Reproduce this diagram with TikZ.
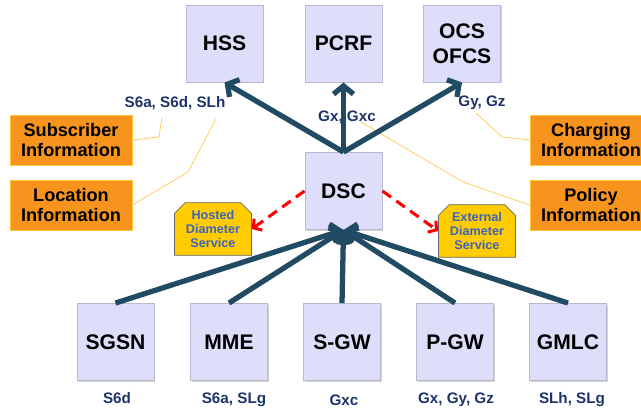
\documentclass[tikz,border=0pt]{standalone}
\usepackage{fontspec}
\setmainfont{Liberation Sans}
\usetikzlibrary{arrows.meta,shapes.misc,shadows}
\definecolor{nodefill}{RGB}{222,222,250}
\definecolor{nodeedge}{RGB}{185,185,205}
\definecolor{linkblue}{RGB}{33,74,99}
\definecolor{ifacetext}{RGB}{28,52,105}
\definecolor{infoorange}{RGB}{247,148,30}
\definecolor{infoedge}{RGB}{255,200,60}
\definecolor{svcyellow}{RGB}{255,204,0}
\definecolor{svctext}{RGB}{60,100,190}
\definecolor{leadyellow}{RGB}{255,200,80}
\begin{document}
\begin{tikzpicture}[
      x=0.03cm, y=-0.03cm,
      elem/.style={draw=nodeedge, line width=0.8pt, fill=nodefill, minimum width=2.31cm, minimum height=2.31cm, align=center, font=\fontsize{18}{21}\selectfont\bfseries, drop shadow={shadow xshift=1.2pt, shadow yshift=-1.2pt, opacity=0.35}},
      info/.style={draw=infoedge, line width=0.6pt, fill=infoorange, minimum width=3.66cm, minimum height=1.5cm, align=center, font=\fontsize{15.5}{17}\selectfont\bfseries},
      svc/.style={chamfered rectangle, chamfered rectangle corners={north west,north east}, chamfered rectangle xsep=0.2cm, draw=black!60, line width=0.6pt, fill=svcyellow, text=svctext, minimum width=2.31cm, minimum height=1.58cm, align=center, font=\fontsize{10.8}{11.7}\selectfont\bfseries, inner sep=1pt},
      iface/.style={text=ifacetext, font=\fontsize{13}{15}\selectfont\bfseries},
      link/.style={draw=linkblue, line width=4.5pt, -{Straight Barb[length=7pt,width=17pt]}},
      opt/.style={draw=red, line width=2.6pt, dash pattern=on 9pt off 5.5pt, -{Straight Barb[length=5pt,width=12pt]}},
      lead/.style={draw=leadyellow, line width=0.6pt}
      ]
      \useasboundingbox (0,0) rectangle (641,411);
      \clip (0,0) rectangle (641,411);
      \node[elem] (hss) at (224.5,43.5) {HSS};
      \node[elem] (pcrf) at (343.5,43.5) {PCRF};
      \node[elem] (ocs) at (462,43.5) {OCS\\OFCS};
      \node[elem] (dsc) at (343.5,191) {DSC};
      \node[elem] (sgsn) at (115.5,342) {SGSN};
      \node[elem] (mme) at (229,342) {MME};
      \node[elem] (sgw) at (342,342) {S-GW};
      \node[elem] (pgw) at (455,342) {P-GW};
      \node[elem] (gmlc) at (568,342) {GMLC};
      \node[info] (subs) at (71,140) {Subscriber\\Information};
      \node[info] (loc) at (71,205) {Location\\Information};
      \node[info] (chrg) at (591,140) {Charging\\Information};
      \node[info] (pol) at (591,205) {Policy\\Information};
      \node[svc] (hosted) at (213,229) {Hosted\\Diameter\\Service};
      \node[svc] (ext) at (477,231) {External\\Diameter\\Service};
      \node[iface] (hsslbl) at (175,103) {S6a, S6d, SLh};
      \node[iface] (pcrflbl) at (347,117) {Gx, Gxc};
      \node[iface] (ocslbl) at (482,103) {Gy, Gz};
      \node[iface] (sgsnlbl) at (117,398) {S6d};
      \node[iface] (mmelbl) at (234,400) {S6a, SLg};
      \node[iface] (sgwlbl) at (344,400) {Gxc};
      \node[iface] (pgwlbl) at (456,400) {Gx, Gy, Gz};
      \node[iface] (gmlclbl) at (572,400) {SLh, SLg};
      \coordinate (subsfoot) at (162,117);
      \coordinate (locfoot) at (216,119);
      \coordinate (chrgfoot) at (476,113);
      \coordinate (polfoot) at (361,122);
      \draw[lead] (subsfoot) -- (159,137) -- (subs.east);
      \draw[lead] (locfoot) -- (188,172) -- (loc.east);
      \draw[lead] (chrgfoot) -- (502,137) -- (chrg.west);
      \draw[lead] (polfoot) -- (463,182) -- (pol.west);
      \draw[link] (dsc.north) -- (hss.south);
      \draw[link] (dsc.north) -- (pcrf.south);
      \draw[link] (dsc.north) -- (ocs.south);
      \draw[link] (sgsn.north) -- (dsc.south);
      \draw[link] (mme.north) -- (dsc.south);
      \draw[link] (sgw.north) -- (dsc.south);
      \draw[link] (pgw.north) -- (dsc.south);
      \draw[link] (gmlc.north) -- (dsc.south);
      \draw[opt] (dsc.west) -- (hosted.east);
      \draw[opt] (dsc.east) -- (ext.west);
    \end{tikzpicture}
\end{document}
